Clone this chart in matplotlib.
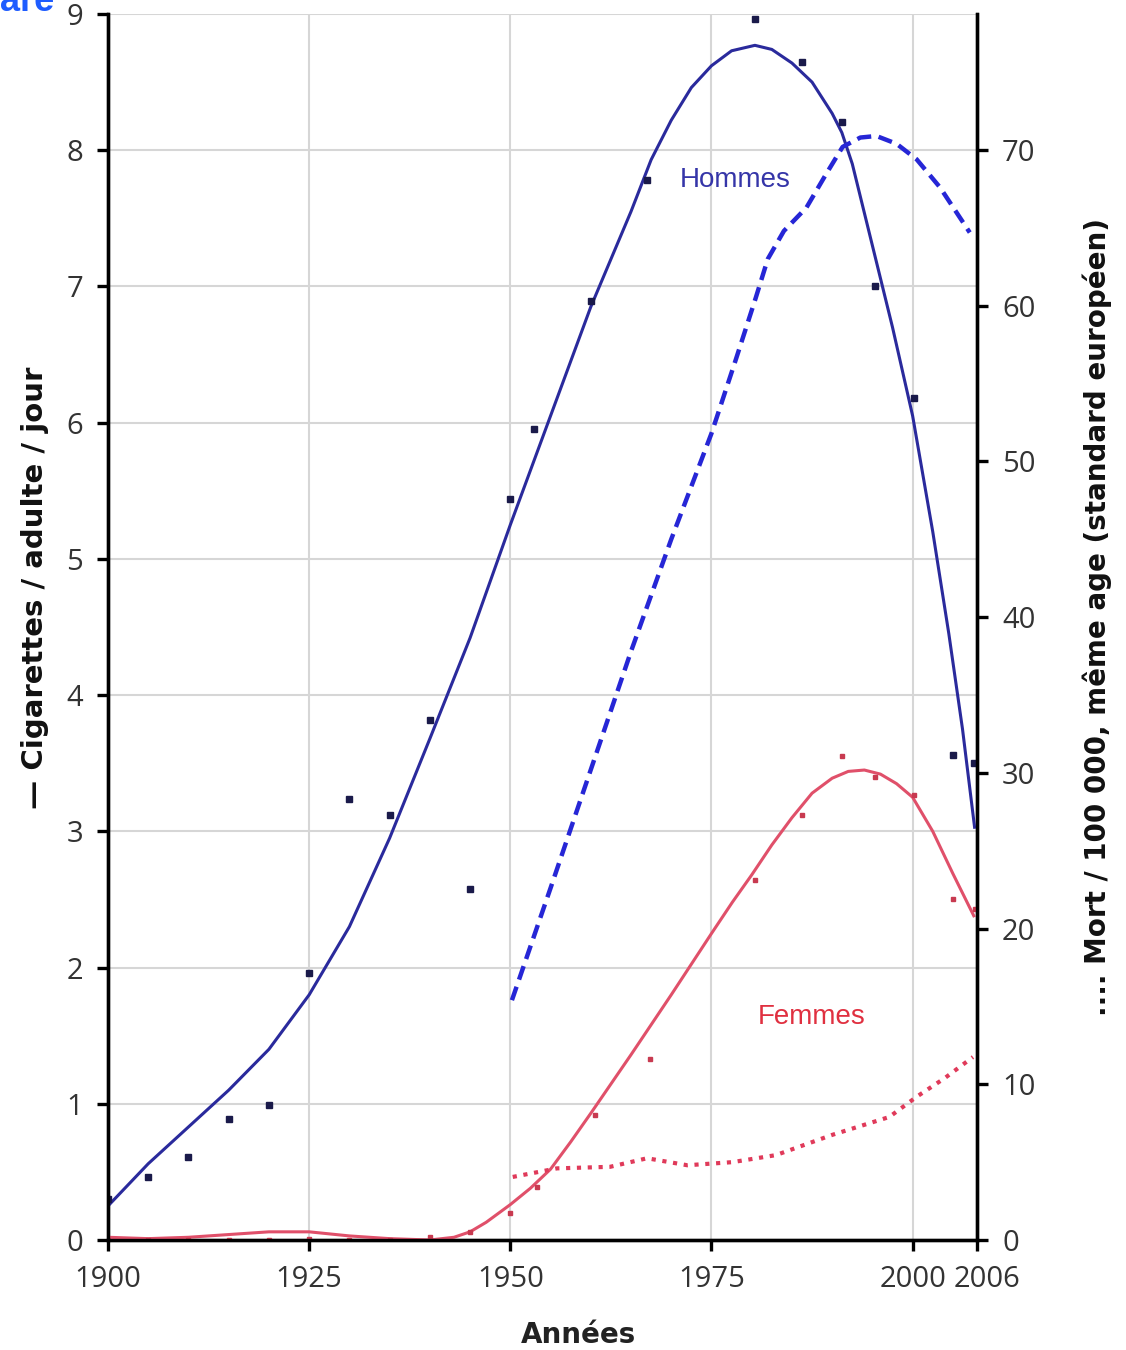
import matplotlib
matplotlib.use('Agg')
import matplotlib.pyplot as plt
import matplotlib.transforms as mtransforms

# raw data points (cigarettes / adult / day)
men_pts_years = [1900, 1905, 1910, 1915, 1920, 1925, 1930, 1935, 1940, 1945, 1950, 1953, 1960, 1967,
                 1980.4, 1986.2, 1991.2, 1995.3, 2000.2, 2005, 2007.6]
men_pts_vals = [0.3, 0.46, 0.61, 0.89, 0.99, 1.96, 3.24, 3.12, 3.82, 2.58, 5.44, 5.95, 6.89, 7.78,
                8.96, 8.65, 8.21, 7.0, 6.18, 3.56, 3.5]

women_pts_years = [1900, 1905, 1910, 1915, 1920, 1925, 1930, 1935, 1940, 1945, 1950, 1953.3, 1960.5, 1967.3,
                   1980.4, 1986.2, 1991.2, 1995.3, 2000.2, 2005, 2007.7]
women_pts_vals = [0.0, 0.0, 0.0, 0.0, 0.0, 0.01, 0.0, 0.0, 0.02, 0.06, 0.2, 0.39, 0.92, 1.33,
                  2.64, 3.12, 3.55, 3.4, 3.27, 2.5, 2.43]

# smoothed curves (cigarettes)
men_fit_years = [1900, 1905, 1910, 1915, 1920, 1925, 1930, 1935, 1940, 1945, 1950, 1955, 1960, 1962.5,
                 1965, 1967.5, 1970, 1972.5, 1975, 1977.5, 1980.4, 1982.5, 1985, 1987.5, 1990, 1991.2,
                 1992.5, 1995, 1997.5, 2000, 2002.5, 2004.5, 2006.2, 2007.7]
men_fit_vals = [0.25, 0.56, 0.83, 1.10, 1.40, 1.80, 2.30, 2.95, 3.68, 4.42, 5.25, 6.05, 6.85, 7.2,
                7.55, 7.93, 8.22, 8.46, 8.62, 8.73, 8.77, 8.74, 8.64, 8.5, 8.27, 8.13,
                7.9, 7.3, 6.7, 6.05, 5.2, 4.45, 3.75, 3.03]

women_fit_years = [1900, 1905, 1910, 1915, 1920, 1925, 1930, 1935, 1940, 1943, 1945, 1947, 1950, 1952.5,
                   1955, 1957.5, 1960, 1965, 1970, 1975, 1977.6, 1980, 1982.5, 1985, 1987.5, 1990, 1992,
                   1994, 1996, 1998, 2000, 2002.5, 2005, 2007.6]
women_fit_vals = [0.02, 0.01, 0.02, 0.04, 0.06, 0.06, 0.03, 0.01, 0.0, 0.02, 0.06, 0.13, 0.26, 0.38,
                  0.52, 0.72, 0.93, 1.36, 1.8, 2.25, 2.48, 2.68, 2.9, 3.1, 3.28, 3.39, 3.44,
                  3.45, 3.42, 3.35, 3.25, 3.0, 2.69, 2.38]

# mortality / 100 000 (right axis)
men_mort_years = [1950.2, 1955, 1960, 1965, 1970, 1975, 1978, 1980.5, 1982, 1984, 1986.8, 1989.3, 1991.3,
                  1993.5, 1995.5, 1998, 2000.5, 2003.4, 2007.1]
men_mort_vals = [15.4, 22.6, 30.2, 37.8, 45.0, 51.8, 56.5, 60.5, 63.0, 64.8, 66.3, 68.5, 70.2,
                 70.8, 70.9, 70.4, 69.4, 67.6, 64.7]

women_mort_years = [1950.3, 1955.8, 1962.4, 1967, 1972, 1977.6, 1983, 1990, 1997.1, 2000.5, 2004, 2007.5]
women_mort_vals = [4.05, 4.6, 4.7, 5.25, 4.8, 5.0, 5.45, 6.75, 7.9, 9.2, 10.4, 11.75]

year_ticks = [1900, 1925, 1950, 1975, 2000, 2008]
year_labels = ['1900', '1925', '1950', '1975', '2000', '2006']
cig_ticks = [0, 1, 2, 3, 4, 5, 6, 7, 8, 9]
mort_ticks = [0, 10, 20, 30, 40, 50, 60, 70]

plt.rcParams['font.family'] = ['Open Sans', 'DejaVu Sans']

fig = plt.figure(figsize=(11.26, 13.5), dpi=100)
ax = fig.add_axes([108 / 1126, 1 - 1240 / 1350, (977 - 108) / 1126, (1240 - 14) / 1350])
ax2 = ax.twinx()

blue = '#2a2a9c'
red = '#e0506a'

ax.plot(men_fit_years, men_fit_vals, color=blue, lw=2.2, zorder=3)
ax.plot(women_fit_years, women_fit_vals, color=red, lw=2.2, zorder=3)
ax.plot(men_pts_years, men_pts_vals, 's', color='#1a1a4a', ms=4, zorder=4)
ax.plot(women_pts_years, women_pts_vals, 's', color='#c83a50', ms=3.5, zorder=4)

ax2.plot(men_mort_years, men_mort_vals, color='#2626d6', lw=3.2, dashes=(3.2, 1.7))
ax2.plot(women_mort_years, women_mort_vals, color='#e03a5a', lw=3.0, dashes=(1, 1.6))

ax.set_xlim(1900, 2008)
ax.set_ylim(0, 9)
ax2.set_ylim(0, (1240 - 14) / ((1240 - 150) / 70))

ax.set_xticks(year_ticks)
ax.set_xticklabels(year_labels)
ax.set_yticks(cig_ticks)
ax2.set_yticks(mort_ticks)

# grid only on the inner years and the left-axis integers
for yr in year_ticks[1:-1]:
    ax.axvline(yr, color='#d6d6d6', lw=1.5, zorder=0)
for v in cig_ticks[1:]:
    ax.axhline(v, color='#d6d6d6', lw=1.5, zorder=0)

for a in (ax, ax2):
    a.spines['top'].set_visible(False)
    for s in ('left', 'right', 'bottom'):
        a.spines[s].set_linewidth(2.4)
        a.spines[s].set_color('black')

ax.tick_params(axis='both', direction='out', length=8, width=2.4, labelsize=21,
               labelcolor='#333333', pad=10)
ax2.tick_params(axis='y', direction='out', length=8, width=2.4, labelsize=21,
                labelcolor='#333333', pad=10)

# shift the last year label a bit to the right like in the source
last = ax.get_xticklabels()[-1]
last.set_transform(last.get_transform() + mtransforms.ScaledTranslation(10 / 100, 0, fig.dpi_scale_trans))

bold_font = ['DejaVu Sans']
fig.text(578 / 1126, 1 - 1335 / 1350, 'Années', ha='center', va='center', fontsize=20, fontweight='bold',
         family=bold_font, color='#222222')
fig.text(35 / 1126, 1 - 588 / 1350, '— Cigarettes / adulte / jour', rotation=90, ha='center', va='center',
         fontsize=21, fontweight='bold', family=bold_font, color='#111111')
fig.text(1097 / 1126, 1 - 617 / 1350, '.... Mort / 100 000, même age (standard européen)', rotation=90,
         ha='center', va='center', fontsize=20, fontweight='bold', family=bold_font, color='#111111')

ax.text(1978, 7.78, 'Hommes', color='#3535a8', fontsize=20, ha='center', va='center',
        family=['Liberation Sans Narrow', 'Liberation Sans', 'DejaVu Sans'])
ax.text(1987.5, 1.64, 'Femmes', color='#e03040', fontsize=20, ha='center', va='center',
        family=['Liberation Sans Narrow', 'Liberation Sans', 'DejaVu Sans'])

# piece of the cut-off title at the top left
fig.text(0.0, 0.999, 'are', color='#1e5cff', fontsize=26, fontweight='bold', va='center', ha='left',
         family=['Liberation Sans', 'DejaVu Sans'])

fig.savefig('out.png', dpi=100)
